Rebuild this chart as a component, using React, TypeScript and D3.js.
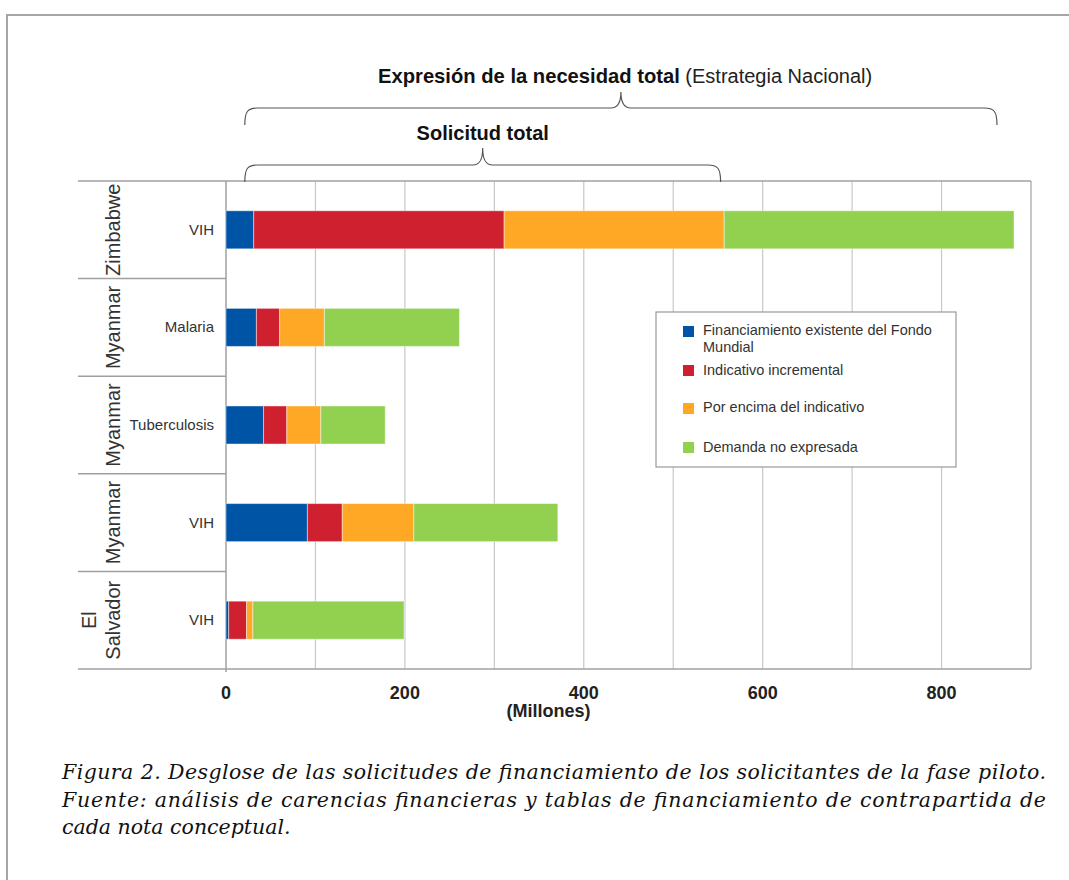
import React from "react";
import * as d3 from "d3";

// ---- data ----
const countries = ["Zimbabwe", "Myanmar", "Myanmar", "Myanmar", "El Salvador"];
const programs = ["VIH", "Malaria", "Tuberculosis", "VIH", "VIH"];
const existing = [31, 34, 42, 91, 3];
const incremental = [280, 26, 26, 39, 20];
const aboveIndicative = [246, 50, 38, 80, 7];
const unexpressed = [324, 151, 72, 161, 169];
const seriesNames = [
  "Financiamiento existente del Fondo Mundial",
  "Indicativo incremental",
  "Por encima del indicativo",
  "Demanda no expresada",
];
const seriesColors = ["#0054A6", "#CF202F", "#FFA826", "#92D050"];
const xTicks = [0, 200, 400, 600, 800];
const gridValues = [100, 200, 300, 400, 500, 600, 700, 800, 900];
const xLabel = "(Millones)";
const bigBrace = { from: 21, to: 862, title: "Expresión de la necesidad total", sub: " (Estrategia Nacional)" };
const smallBrace = { from: 21, to: 553, title: "Solicitud total" };
const captionLines = [
  "Figura 2. Desglose de las solicitudes de financiamiento de los solicitantes de la fase piloto.",
  "Fuente: análisis de carencias financieras y tablas de financiamiento de contrapartida de",
  "cada nota conceptual.",
];

const W = 1069;
const H = 880;
const left = 226, right = 1031, top = 181, bottom = 669, labelLeft = 78;

function bracePath(x1: number, x2: number, yEnd: number, yH: number, yTip: number) {
  const xm = (x1 + x2) / 2;
  return [
    `M${x1},${yEnd}`,
    `C${x1},${yH + 3} ${x1 + 3},${yH} ${x1 + 13},${yH}`,
    `L${xm - 10},${yH}`,
    `C${xm - 3},${yH} ${xm},${yH - 5} ${xm},${yTip}`,
    `C${xm},${yH - 5} ${xm + 3},${yH} ${xm + 10},${yH}`,
    `L${x2 - 13},${yH}`,
    `C${x2 - 3},${yH} ${x2},${yH + 3} ${x2},${yEnd}`,
  ].join(" ");
}

export default function App() {
  const ids = programs.map((_, i) => String(i));
  const x = d3.scaleLinear().domain([0, 900]).range([left, right]);
  const y = d3.scaleBand<string>().domain(ids).range([top, bottom]);
  const barH = y.bandwidth() * 0.39;

  const rows = ids.map((id, i) => ({
    id,
    s0: existing[i],
    s1: incremental[i],
    s2: aboveIndicative[i],
    s3: unexpressed[i],
  }));
  const stack = d3.stack<any>().keys(["s0", "s1", "s2", "s3"]);
  const layers = stack(rows);

  const font = "Arial, 'Liberation Sans', sans-serif";

  return (
    <svg
      width={W}
      height={H}
      style={{ position: "absolute", left: 0, top: 0, background: "#fff" }}
      fontFamily={font}
    >
      <rect x={0} y={0} width={W} height={H} fill="#fff" />
      {/* frame */}
      <line x1={6} x2={W} y1={15} y2={15} stroke="#a6a6a6" strokeWidth={2} />
      <line x1={7} x2={7} y1={14} y2={H} stroke="#a6a6a6" strokeWidth={2} />

      {/* grid */}
      {gridValues.map((v) => (
        <line key={v} x1={x(v)} x2={x(v)} y1={top} y2={bottom} stroke={v === 900 ? "#a0a0a0" : "#c8c8c8"} strokeWidth={1.2} />
      ))}
      <line x1={labelLeft} x2={right} y1={top} y2={top} stroke="#a0a0a0" strokeWidth={1.5} />
      <line x1={labelLeft} x2={right} y1={bottom} y2={bottom} stroke="#a0a0a0" strokeWidth={1.5} />
      <line x1={x(0)} x2={x(0)} y1={top} y2={bottom + 3} stroke="#a0a0a0" strokeWidth={1.5} />
      {ids.slice(1).map((id) => (
        <line key={id} x1={labelLeft} x2={x(0)} y1={y(id)!} y2={y(id)!} stroke="#a0a0a0" strokeWidth={1.5} />
      ))}

      {/* bars */}
      {layers.map((layer, li) => (
        <g key={li} fill={seriesColors[li]}>
          {layer.map((d: any, i: number) => (
            <rect
              key={i}
              x={x(d[0])}
              width={x(d[1]) - x(d[0])}
              y={y(ids[i])! + (y.bandwidth() - barH) / 2}
              height={barH}
              stroke="rgba(255,255,255,0.45)"
              strokeWidth={1}
            />
          ))}
        </g>
      ))}

      {/* category labels */}
      {ids.map((id, i) => {
        const cy = y(id)! + y.bandwidth() / 2;
        const words = countries[i].split(" ");
        const n = words.length;
        return (
          <g key={id} fill="#333">
            <text x={214} y={cy + 5} textAnchor="end" fontSize={15}>
              {programs[i]}
            </text>
            <text
              transform={`translate(${120 - 24 * (n - 1)},${cy}) rotate(-90)`}
              textAnchor="middle"
              fontSize={20}
            >
              {words.map((w, k) => (
                <tspan key={k} x={0} dy={k === 0 ? 0 : 24}>
                  {w}
                </tspan>
              ))}
            </text>
          </g>
        );
      })}

      {/* x ticks */}
      {xTicks.map((t) => (
        <text key={t} x={x(t)} y={699} textAnchor="middle" fontSize={18} fontWeight="bold" fill="#222">
          {t}
        </text>
      ))}
      <text x={548.5} y={717} textAnchor="middle" fontSize={18} fontWeight="bold" fill="#222">
        {xLabel}
      </text>

      {/* legend */}
      <rect x={656} y={312} width={300} height={155} fill="#fff" stroke="#999" strokeWidth={1.2} />
      {[
        { sy: 326, lines: ["Financiamiento existente del Fondo", "Mundial"], by: 335 },
        { sy: 365, lines: [seriesNames[1]], by: 375 },
        { sy: 403, lines: [seriesNames[2]], by: 412 },
        { sy: 442, lines: [seriesNames[3]], by: 452 },
      ].map((it, i) => (
        <g key={i}>
          <rect x={683} y={it.sy} width={11} height={11} fill={seriesColors[i]} />
          <text x={703} y={it.by} fontSize={14.5} fill="#333">
            {it.lines.map((l, k) => (
              <tspan key={k} x={703} dy={k === 0 ? 0 : 16.5}>
                {l}
              </tspan>
            ))}
          </text>
        </g>
      ))}

      {/* braces */}
      <path d={bracePath(x(bigBrace.from), x(bigBrace.to), 125, 108, 92)} fill="none" stroke="#555" strokeWidth={1.2} />
      <path d={bracePath(x(smallBrace.from), x(smallBrace.to), 182, 165, 148)} fill="none" stroke="#555" strokeWidth={1.2} />
      <text x={378} y={83} fill="#111">
        <tspan fontWeight="bold" fontSize={20.2}>{bigBrace.title}</tspan>
        <tspan fontSize={20} fill="#222">{bigBrace.sub}</tspan>
      </text>
      <text x={(x(smallBrace.from) + x(smallBrace.to)) / 2} y={140} textAnchor="middle" fontWeight="bold" fontSize={20} fill="#111">
        {smallBrace.title}
      </text>

      {/* caption */}
      {captionLines.map((l, i) => (
        <text
          key={i}
          x={62}
          y={779 + i * 27.5}
          fontFamily="'DejaVu Serif', Georgia, serif"
          fontStyle="italic"
          fontSize={20.5}
          fill="#111"
          {...(i < 2 ? { textLength: 984, lengthAdjust: "spacing" } : {})}
        >
          {l}
        </text>
      ))}
    </svg>
  );
}
